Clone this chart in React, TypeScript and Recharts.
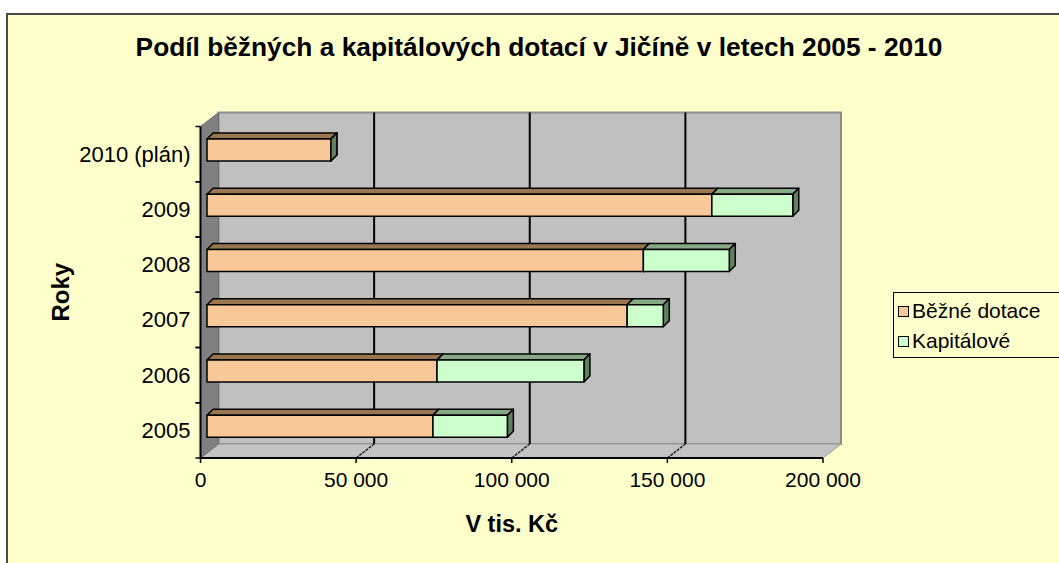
import React from 'react';
import {
  BarChart, Bar, XAxis, YAxis, ReferenceArea, ReferenceLine, Legend,
} from 'recharts';

// ---- data ----
const categories = ['2010 (plán)', '2009', '2008', '2007', '2006', '2005'];
const bezneDotace = [39800, 162200, 140200, 135000, 73900, 72600];
const kapitalove = [0, 26000, 27600, 11600, 47200, 23900];
const xTicks = [0, 50000, 100000, 150000, 200000];
const gridValues = [50000, 100000, 150000];

const data = categories.map((c, i) => ({
  rok: c,
  bezne: bezneDotace[i],
  kapital: kapitalove[i],
}));

// ---- styling ----
const FONT = '"Liberation Sans", Arial, sans-serif';
const BG = '#FFFFCC';
const WALL = '#C0C0C0';
const SIDE_WALL = '#808080';
const WALL_DX = 18;
const WALL_DY = -14;
const BAR_SX = 6.5;
const BAR_SY = -4.5;
const BAR_DX = 6;
const BAR_DY = -6;

const fmt = (v: number) =>
  v === 0 ? '0' : String(v).replace(/\B(?=(\d{3})+(?!\d))/g, ' ');

const makeBarShape = (front: string, top: string, side: string) => (props: any) => {
  const { x, y, width, height } = props;
  if (width == null || height == null || isNaN(x) || isNaN(y)) return <g />;
  const fx = x + BAR_SX;
  const fy = y + BAR_SY;
  const w = Math.max(0, width);
  const h = height;
  const stroke = '#000';
  const sw = 1.5;
  return (
    <g>
      <polygon
        points={`${fx},${fy} ${fx + BAR_DX},${fy + BAR_DY} ${fx + w + BAR_DX},${fy + BAR_DY} ${fx + w},${fy}`}
        fill={top}
        stroke={stroke}
        strokeWidth={sw}
        strokeLinejoin="round"
      />
      <polygon
        points={`${fx + w},${fy} ${fx + w + BAR_DX},${fy + BAR_DY} ${fx + w + BAR_DX},${fy + h + BAR_DY} ${fx + w},${fy + h}`}
        fill={side}
        stroke={stroke}
        strokeWidth={sw}
        strokeLinejoin="round"
      />
      {w > 0 && (
        <rect x={fx} y={fy} width={w} height={h} fill={front} stroke={stroke} strokeWidth={sw} />
      )}
    </g>
  );
};

const orangeShape = makeBarShape('#F9C898', '#9A7552', '#5F7F5F');
const greenShape = makeBarShape('#CCFFCC', '#86A886', '#5F7F5F');

const WallsShape = (props: any) => {
  const { x, y, width, height } = props;
  const left = x;
  const right = x + width;
  const topY = y;
  const botY = y + height;
  const bl = left + WALL_DX;
  const br = right + WALL_DX;
  const bt = topY + WALL_DY;
  const bb = botY + WALL_DY;
  return (
    <g>
      <rect x={bl} y={bt} width={br - bl} height={bb - bt} fill={WALL} stroke="#8C8C8C" strokeWidth={2} />
      <polygon
        points={`${left},${botY} ${right},${botY} ${br},${bb} ${bl},${bb}`}
        fill="#C4C4C4"
        stroke="#9A9A9A"
        strokeWidth={1}
      />
      <polygon
        points={`${left},${topY} ${bl},${bt} ${bl},${bb} ${left},${botY}`}
        fill={SIDE_WALL}
        stroke="#6E6E6E"
        strokeWidth={1}
      />
    </g>
  );
};

const GridLineShape = (props: any) => {
  const { x1, y1, y2 } = props;
  const top = Math.min(y1, y2);
  const bot = Math.max(y1, y2);
  return (
    <g>
      <line x1={x1 + WALL_DX} y1={top + WALL_DY} x2={x1 + WALL_DX} y2={bot + WALL_DY} stroke="#000" strokeWidth={2} />
      <line x1={x1} y1={bot} x2={x1 + WALL_DX} y2={bot + WALL_DY} stroke="#222" strokeWidth={1.5} strokeDasharray="3 1" />
    </g>
  );
};

const YTick = (props: any) => {
  const { x, y, payload } = props;
  const axisX = x + 10;
  const off = payload && payload.offset ? payload.offset : 0;
  return (
    <g>
      <text x={x} y={y} textAnchor="end" dominantBaseline="central" fontSize={22} fill="#000" fontFamily={FONT}>
        {payload.value}
      </text>
      {off > 0 && (
        <>
          <line x1={axisX - 5} y1={y - off} x2={axisX} y2={y - off} stroke="#000" strokeWidth={1.5} />
          <line x1={axisX - 5} y1={y + off} x2={axisX} y2={y + off} stroke="#000" strokeWidth={1.5} />
        </>
      )}
    </g>
  );
};

const YLabel = (props: any) => {
  const vb = props.viewBox || {};
  const cx = 60;
  const cy = (vb.y || 0) + (vb.height || 0) / 2;
  return (
    <text
      x={cx}
      y={cy}
      transform={`rotate(-90, ${cx}, ${cy})`}
      textAnchor="middle"
      dominantBaseline="central"
      fontSize={24}
      fontWeight="bold"
      fontFamily={FONT}
      fill="#000"
    >
      Roky
    </text>
  );
};

const LegendContent = (props: any) => {
  const items = props.payload || [];
  return (
    <div
      style={{
        border: '1px solid #000',
        background: BG,
        padding: '3px 40px 1px 4px',
        fontFamily: FONT,
        fontSize: 21,
        color: '#000',
        whiteSpace: 'nowrap',
      }}
    >
      {items.map((it: any) => (
        <div key={it.value} style={{ display: 'flex', alignItems: 'center', height: 30 }}>
          <span
            style={{
              display: 'inline-block',
              width: 9,
              height: 9,
              background: it.color,
              border: '1px solid #000',
              marginRight: 3,
            }}
          />
          <span>{it.value}</span>
        </div>
      ))}
    </div>
  );
};

export default function App() {
  return (
    <div style={{ position: 'absolute', left: 0, top: 0, width: 1059, height: 563, background: '#fff', overflow: 'hidden' }}>
      <div
        style={{
          position: 'absolute',
          left: 6,
          top: 13,
          width: 1059,
          height: 563,
          background: BG,
          borderTop: '2px solid #4A4A4A',
          borderLeft: '2px solid #4A4A4A',
        }}
      />
      <div
        style={{
          position: 'absolute',
          left: 0,
          width: 1078,
          top: 32,
          textAlign: 'center',
          fontFamily: FONT,
          fontWeight: 'bold',
          fontSize: 26.3,
          color: '#000',
          whiteSpace: 'nowrap',
        }}
      >
        Podíl běžných a kapitálových dotací v Jičíně v letech 2005 - 2010
      </div>
      <div style={{ position: 'absolute', left: 0, top: 0 }}>
        <BarChart
          width={1059}
          height={563}
          data={data}
          layout="vertical"
          margin={{ top: 126.5, right: 236, bottom: 0, left: 0 }}
          barSize={22}
          barCategoryGap={0}
        >
          <XAxis
            type="number"
            domain={[0, 200000]}
            ticks={xTicks}
            tickFormatter={fmt}
            height={105}
            axisLine={{ stroke: '#000', strokeWidth: 2 }}
            tickLine={{ stroke: '#000', strokeWidth: 1.5 }}
            tickSize={5}
            tickMargin={9}
            tick={{ fontSize: 21, fill: '#000', fontFamily: FONT }}
            interval={0}
            allowDataOverflow
            label={{
              value: 'V tis. Kč',
              position: 'insideBottom',
              offset: 31,
              style: { fontSize: 23.5, fontWeight: 'bold', fill: '#000', fontFamily: FONT },
            }}
          />
          <YAxis
            type="category"
            dataKey="rok"
            width={200.5}
            axisLine={{ stroke: '#000', strokeWidth: 2 }}
            tickLine={false}
            tickSize={5}
            tickMargin={5}
            tick={<YTick />}
            interval={0}
            label={<YLabel />}
          />
          <ReferenceArea x1={0} x2={200000} shape={WallsShape} zIndex={-90} ifOverflow="visible" />
          {gridValues.map((v) => (
            <ReferenceLine key={v} x={v} shape={GridLineShape} zIndex={-80} ifOverflow="visible" />
          ))}
          <Bar dataKey="bezne" name="Běžné dotace" stackId="a" fill="#F9C898" shape={orangeShape} isAnimationActive={false} />
          <Bar dataKey="kapital" name="Kapitálové" stackId="a" fill="#CCFFCC" shape={greenShape} isAnimationActive={false} />
          <Legend
            layout="vertical"
            align="center"
            verticalAlign="middle"
            content={<LegendContent />}
            wrapperStyle={{ position: 'absolute', left: 893, top: 292, width: 'auto', height: 'auto' }}
          />
        </BarChart>
      </div>
    </div>
  );
}
